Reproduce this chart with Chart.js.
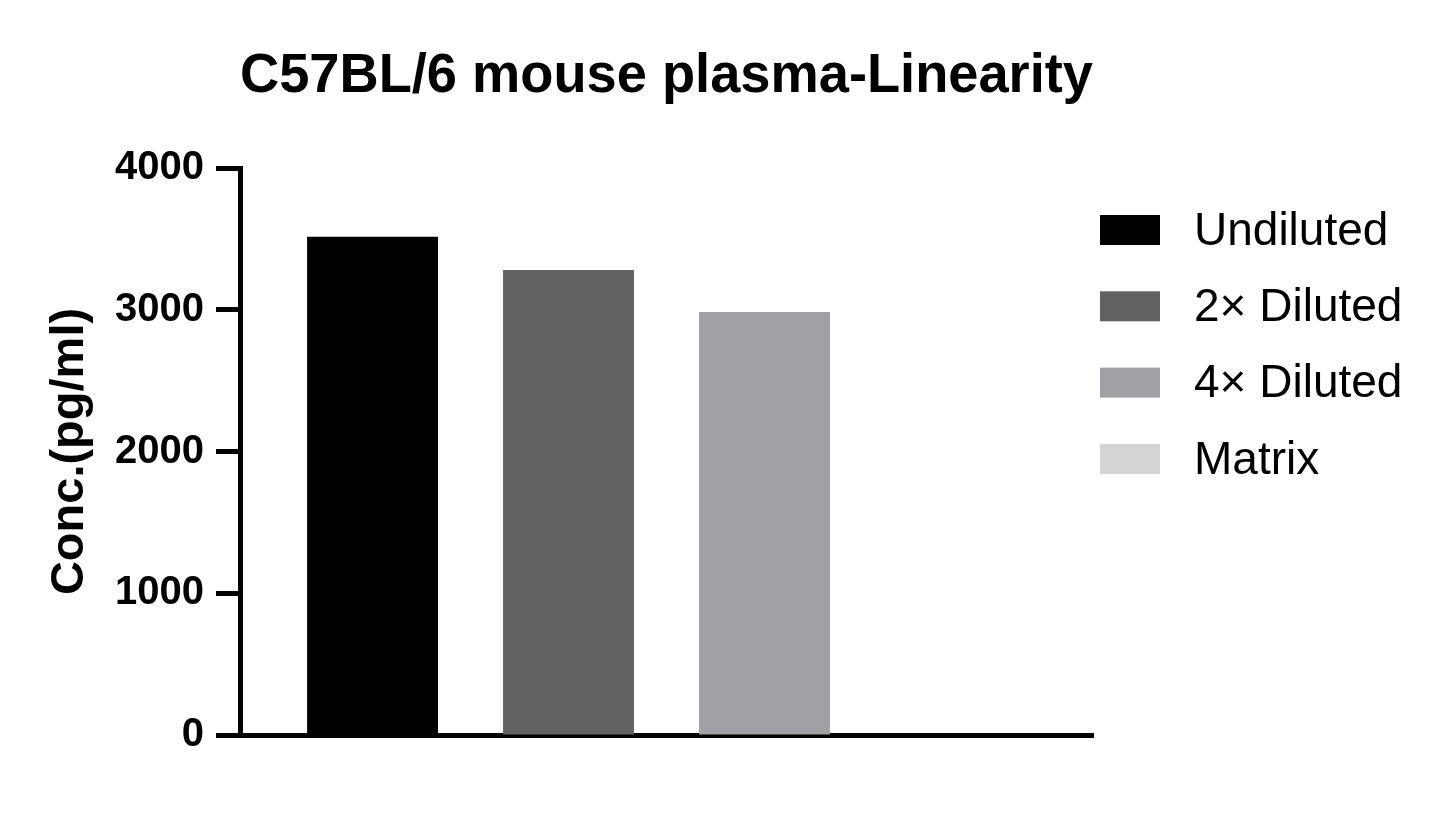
<!DOCTYPE html>
<html>
<head>
<meta charset="utf-8">
<title>C57BL/6 mouse plasma-Linearity</title>
<script src="https://cdn.jsdelivr.net/npm/chart.js@4.4.0/dist/chart.umd.min.js"></script>
<style>
  html, body { margin: 0; padding: 0; background: #fff; }
  #wrap { width: 1445px; height: 825px; }
</style>
</head>
<body>
<div id="wrap"><canvas id="linearity"></canvas></div>
<script>
// sample groups and measured concentration (pg/ml)
const sampleNames = ['Undiluted', '2\u00d7 Diluted', '4\u00d7 Diluted', 'Matrix'];
const concValues = [3515, 3280, 2985, 0];
const barColors = ['#000000', '#626262', '#a1a1a5', '#d4d4d4'];
const yTicks = [0, 1000, 2000, 3000, 4000];

const FONT = '"Liberation Sans", Arial, Helvetica, sans-serif';

// one dataset per sample so they sit side by side in a single category
const datasets = sampleNames.map((name, i) => ({
  label: name,
  data: [concValues[i]],
  backgroundColor: barColors[i],
  borderWidth: 0,
  barPercentage: 0.668,
  categoryPercentage: 0.919
}));

// legend drawn on the right, prism style (wide boxes, big text)
const sideLegend = {
  id: 'sideLegend',
  afterDraw(chart) {
    const ctx = chart.ctx;
    ctx.save();
    ctx.font = '46px ' + FONT;
    ctx.textBaseline = 'middle';
    ctx.textAlign = 'left';
    chart.data.datasets.forEach((ds, i) => {
      const y = 215 + i * 76.3;
      ctx.fillStyle = ds.backgroundColor;
      ctx.fillRect(1100, y, 60, 30);
      ctx.fillStyle = '#000';
      ctx.fillText(ds.label, 1194, y + 17);
    });
    ctx.restore();
  }
};

new Chart(document.getElementById('linearity'), {
  type: 'bar',
  data: { labels: [''], datasets: datasets },
  options: {
    responsive: true,
    maintainAspectRatio: false,
    animation: false,
    layout: { padding: { left: 30, right: 352, top: 0, bottom: 82 } },
    plugins: {
      legend: { display: false },
      tooltip: { enabled: false },
      title: {
        display: true,
        fullSize: false,
        text: 'C57BL/6 mouse plasma-Linearity',
        color: '#000',
        font: { family: FONT, size: 55, weight: 'bold' },
        padding: { top: 44, bottom: 58 }
      }
    },
    scales: {
      x: {
        grid: { display: false },
        ticks: { display: false },
        border: { color: '#000', width: 5 }
      },
      y: {
        min: 0,
        max: 4000,
        afterBuildTicks(scale) {
          scale.ticks = yTicks.map(v => ({ value: v }));
        },
        afterFit(scale) {
          scale.width = 210;
        },
        grid: {
          drawOnChartArea: false,
          drawTicks: true,
          tickLength: 24,
          tickWidth: 5,
          tickColor: '#000'
        },
        border: { color: '#000', width: 5 },
        ticks: {
          color: '#000',
          padding: 12,
          font: { family: FONT, size: 40, weight: 'bold' },
          callback: v => String(v)
        },
        title: {
          display: true,
          text: 'Conc.(pg/ml)',
          color: '#000',
          font: { family: FONT, size: 47, weight: 'bold' },
          padding: { top: 12, bottom: 4 }
        }
      }
    }
  },
  plugins: [sideLegend]
});
</script>
</body>
</html>
